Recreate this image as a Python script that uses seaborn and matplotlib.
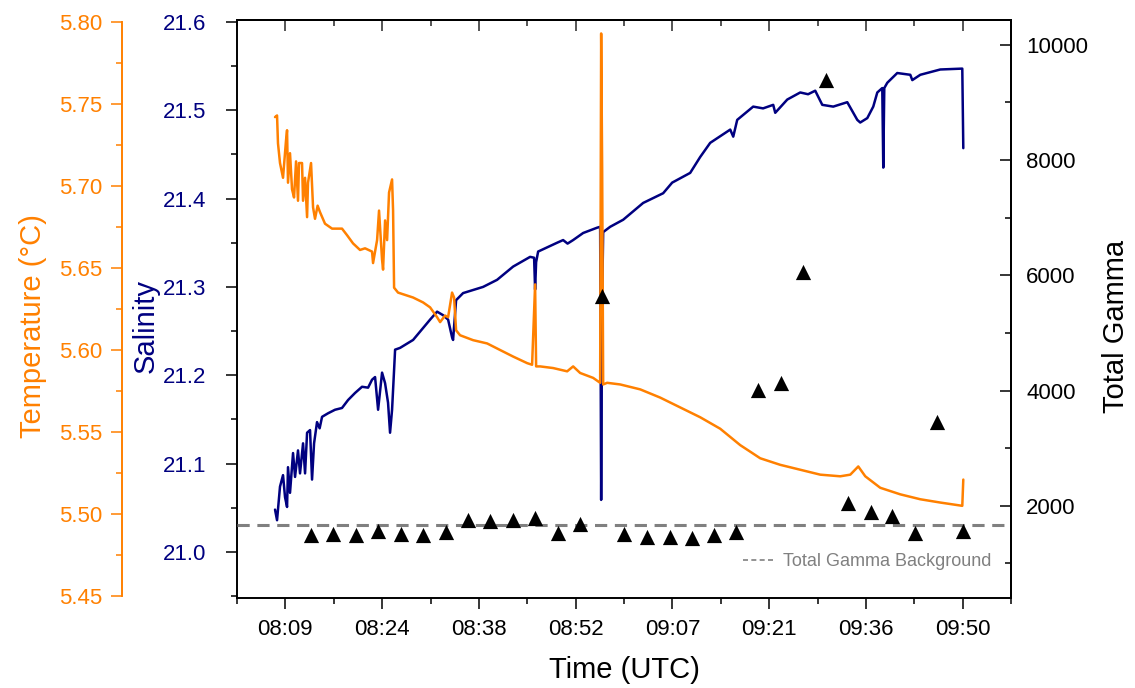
import numpy as np
import matplotlib
matplotlib.use("Agg")
import matplotlib.pyplot as plt
from matplotlib.lines import Line2D
from matplotlib.ticker import FixedLocator, MultipleLocator, FormatStrFormatter
import seaborn as sns

# ------------------------
# Data (time = minutes after 08:00 UTC)
# ------------------------
sal_min = [8.06, 8.36, 8.80, 9.25, 9.55, 9.85, 9.99, 10.29, 10.74, 11.04, 11.48,
           11.78, 12.23, 12.53, 12.83, 13.27, 13.57, 13.87, 14.31, 14.70, 15.06, 15.95,
           16.99, 18.03, 18.93, 19.97, 21.01, 21.91, 22.50, 22.95, 23.40, 23.99,
           24.44, 24.88, 25.18, 25.48, 25.78, 25.93, 26.67, 28.61, 31.14, 32.18,
           33.07, 33.82, 34.41, 34.56, 35.01, 36.05, 39.03, 41.11, 43.50, 46.03,
           46.62, 46.77, 46.92, 47.22, 50.05, 50.94, 51.60, 52.43, 53.92, 56.00, 56.45,
           56.60, 56.75, 56.90, 57.94, 59.88, 62.85, 65.83, 67.17, 69.85, 71.34,
           72.83, 75.81, 76.26, 76.85, 79.23, 80.70, 82.21, 82.51, 84.30, 86.23, 87.40, 88.46,
           89.51, 91.14, 93.23, 94.72, 95.16, 96.21, 97.10, 97.70, 98.44, 98.59,
           98.74, 99.19, 100.67, 102.61, 102.91, 104.10, 107.07, 110.35, 110.50]
salinity = [21.048, 21.036, 21.074, 21.087, 21.062, 21.051, 21.096, 21.067, 21.112, 21.085, 21.115,
            21.089, 21.123, 21.089, 21.135, 21.138, 21.082, 21.123, 21.147, 21.140, 21.153, 21.157,
            21.161, 21.163, 21.172, 21.180, 21.187, 21.186, 21.195, 21.198, 21.161, 21.203,
            21.191, 21.169, 21.135, 21.161, 21.206, 21.229, 21.231, 21.240, 21.263, 21.272,
            21.268, 21.263, 21.243, 21.240, 21.285, 21.293, 21.300, 21.308, 21.323, 21.334,
            21.333, 21.297, 21.328, 21.340, 21.350, 21.353, 21.349, 21.353, 21.361, 21.367, 21.368,
            21.059, 21.285, 21.362, 21.368, 21.376, 21.395, 21.406, 21.418, 21.429, 21.447,
            21.463, 21.478, 21.470, 21.489, 21.504, 21.502, 21.506, 21.497, 21.512, 21.520, 21.518, 21.522,
            21.506, 21.504, 21.509, 21.489, 21.486, 21.491, 21.504, 21.520, 21.525, 21.435,
            21.525, 21.531, 21.542, 21.540, 21.534, 21.540, 21.546, 21.547, 21.457]

temp_min = [8.06, 8.36, 8.50, 8.80, 9.25, 9.70, 9.85, 9.99, 10.29, 10.59,
            10.89, 11.19, 11.48, 11.63, 12.08, 12.23, 12.53, 12.83, 12.97, 13.42,
            13.72, 14.01, 14.40, 14.76, 15.50, 16.55, 18.03, 18.78, 19.67, 20.71, 21.46,
            22.50, 22.65, 23.25, 23.54, 23.99, 24.14, 24.44, 24.74, 25.03, 25.48,
            25.63, 25.78, 26.37, 27.86, 28.61, 30.10, 31.14, 32.18, 32.63, 33.37,
            33.82, 34.41, 34.71, 35.01, 35.60, 37.54, 39.63, 41.56, 43.50, 45.58,
            46.32, 46.77, 46.92, 47.52, 49.45, 51.54, 52.43, 53.47, 55.41, 56.45,
            56.60, 56.75, 56.90, 57.49, 59.43, 62.41, 65.38, 68.36, 71.34, 74.32,
            77.30, 78.79, 80.27, 83.25, 86.23, 89.21, 92.19, 93.68, 94.87, 95.91,
            98.14, 101.12, 104.10, 107.07, 110.35, 110.50]
temperature = [5.742, 5.743, 5.726, 5.714, 5.705, 5.728, 5.734, 5.702, 5.720, 5.698,
               5.693, 5.715, 5.691, 5.714, 5.714, 5.691, 5.705, 5.681, 5.702, 5.714,
               5.687, 5.680, 5.688, 5.684, 5.677, 5.674, 5.674, 5.670, 5.665, 5.661, 5.662,
               5.660, 5.653, 5.667, 5.685, 5.655, 5.649, 5.679, 5.667, 5.696, 5.704,
               5.685, 5.638, 5.635, 5.633, 5.632, 5.629, 5.626, 5.620, 5.617, 5.621,
               5.620, 5.635, 5.632, 5.612, 5.609, 5.606, 5.604, 5.600, 5.596, 5.592,
               5.591, 5.640, 5.590, 5.590, 5.589, 5.587, 5.590, 5.586, 5.583, 5.580,
               5.793, 5.710, 5.579, 5.580, 5.579, 5.576, 5.571, 5.565, 5.559, 5.552,
               5.542, 5.538, 5.534, 5.530, 5.527, 5.524, 5.523, 5.524, 5.529, 5.523,
               5.516, 5.512, 5.509, 5.507, 5.505, 5.521]

gamma_min = [13.42, 16.70, 20.12, 23.40, 26.82, 30.10, 33.52, 36.80, 40.07, 43.50,
             46.78, 50.20, 53.48, 56.75, 60.03, 63.45, 66.88, 70.15, 73.43, 76.71,
             79.98, 83.41, 86.68, 90.11, 93.38, 96.81, 99.93, 103.36, 106.63, 110.51]
gamma_total = [1497, 1509, 1497, 1554, 1509, 1497, 1543, 1757, 1740, 1752,
               1786, 1526, 1682, 5646, 1509, 1467, 1457, 1439, 1497, 1543,
               4014, 4135, 6063, 9396, 2057, 1884, 1826, 1526, 3458, 1571]
gamma_background = 1670

time_ticks = [9.6, 24.0, 38.4, 52.8, 67.2, 81.6, 96.0, 110.4]
time_labels = ["08:09", "08:24", "08:38", "08:52", "09:07", "09:21", "09:36", "09:50"]

NAVY = "#000080"
ORANGE = "#FF8000"
GREY = "#808080"

# ------------------------
# Plot
# ------------------------
sns.set_theme(style="white")
plt.rcParams["font.family"] = ["Liberation Sans", "DejaVu Sans"]

fig = plt.figure(figsize=(11.35, 6.88), dpi=100)
ax = fig.add_axes([237 / 1135, 90 / 688, 774 / 1135, 578 / 688])

sns.lineplot(x=sal_min, y=salinity, ax=ax, color=NAVY, lw=1.8,
             sort=False, estimator=None)

axT = ax.twinx()
sns.lineplot(x=temp_min, y=temperature, ax=axT, color=ORANGE, lw=1.8,
             sort=False, estimator=None)

axG = ax.twinx()
axG.axhline(gamma_background, color=GREY, lw=2.2, ls=(0, (4, 2.5)), zorder=1)
sns.scatterplot(x=gamma_min, y=gamma_total, ax=axG, marker="^", s=120,
                color="black", edgecolor="black", linewidth=0, zorder=5)

# x axis
ax.set_xlim(2.4, 117.6)
ax.set_xticks(time_ticks)
ax.set_xticklabels(time_labels)
ax.xaxis.set_minor_locator(FixedLocator(np.arange(2.4, 118, 14.4)))
ax.tick_params(axis="x", which="both", bottom=True, top=False, direction="out",
               labelsize=16, colors="black", pad=7)
ax.tick_params(axis="x", which="major", length=8, width=1.1)
ax.tick_params(axis="x", which="minor", length=4, width=1.1)
ax.set_xlabel("Time (UTC)", fontsize=21, color="black")
ax.xaxis.set_label_coords(0.5, -0.10)

top = ax.secondary_xaxis("top")
top.set_xticks(time_ticks)
top.set_xticklabels([])
top.xaxis.set_minor_locator(FixedLocator(np.arange(2.4, 118, 14.4)))
top.tick_params(axis="x", which="major", direction="in", length=8, width=1.1)
top.tick_params(axis="x", which="minor", direction="in", length=4, width=1.1)
top.spines["top"].set_linewidth(1.4)
top.spines["top"].set_color("black")

# salinity axis
ax.set_ylim(20.948, 21.602)
ax.yaxis.set_major_locator(FixedLocator(np.arange(21.0, 21.61, 0.1)))
ax.yaxis.set_minor_locator(MultipleLocator(0.05))
ax.yaxis.set_major_formatter(FormatStrFormatter("%.1f"))
ax.tick_params(axis="y", which="both", left=True, right=False, direction="out",
               labelsize=16, labelcolor=NAVY, color="black", width=1.1, pad=14)
ax.tick_params(axis="y", which="major", length=8)
ax.tick_params(axis="y", which="minor", length=4)
ax.set_ylabel("Salinity", fontsize=21, color=NAVY)
ax.yaxis.set_label_coords(-0.10, 0.47)
for s in ax.spines.values():
    s.set_color("black")
    s.set_linewidth(1.4)

# temperature axis (offset on far left)
axT.set_ylim(5.4488, 5.8012)
axT.yaxis.set_label_position("left")
axT.yaxis.set_ticks_position("left")
axT.spines["left"].set_position(("outward", 83))
axT.spines["left"].set_bounds(5.45, 5.80)
axT.spines["left"].set_color(ORANGE)
axT.spines["left"].set_linewidth(1.4)
for side in ["right", "top", "bottom"]:
    axT.spines[side].set_visible(False)
axT.yaxis.set_major_locator(FixedLocator(np.arange(5.45, 5.801, 0.05)))
axT.yaxis.set_minor_locator(MultipleLocator(0.025))
axT.yaxis.set_major_formatter(FormatStrFormatter("%.2f"))
axT.tick_params(axis="y", which="both", left=True, right=False, direction="out",
                labelsize=16, colors=ORANGE, width=1.1, pad=6)
axT.tick_params(axis="y", which="major", length=8)
axT.tick_params(axis="y", which="minor", length=4)
axT.set_ylabel("Temperature (°C)", fontsize=21, color=ORANGE)
axT.yaxis.set_label_coords(-0.245, 0.47)

# gamma axis (right)
axG.set_ylim(400, 10430)
axG.yaxis.set_major_locator(FixedLocator([2000, 4000, 6000, 8000, 10000]))
axG.yaxis.set_minor_locator(FixedLocator([1000, 3000, 5000, 7000, 9000]))
axG.tick_params(axis="y", which="both", right=True, left=False, direction="in",
                labelsize=16, colors="black", width=1.1, pad=11)
axG.tick_params(axis="y", which="major", length=8)
axG.tick_params(axis="y", which="minor", length=4)
axG.set_ylabel("Total Gamma", fontsize=21, color="black")
axG.yaxis.set_label_coords(1.118, 0.47)
for side in ["left", "top", "bottom"]:
    axG.spines[side].set_visible(False)
axG.spines["right"].set_color("black")
axG.spines["right"].set_linewidth(1.4)

handle = Line2D([], [], color=GREY, lw=1.2, ls=(0, (3, 2)))
axG.legend([handle], ["Total Gamma Background"], loc="lower right",
           bbox_to_anchor=(0.995, 0.02), frameon=False, fontsize=13,
           labelcolor=GREY, handlelength=1.8, handletextpad=0.4)

fig.savefig("out.png", dpi=100)
